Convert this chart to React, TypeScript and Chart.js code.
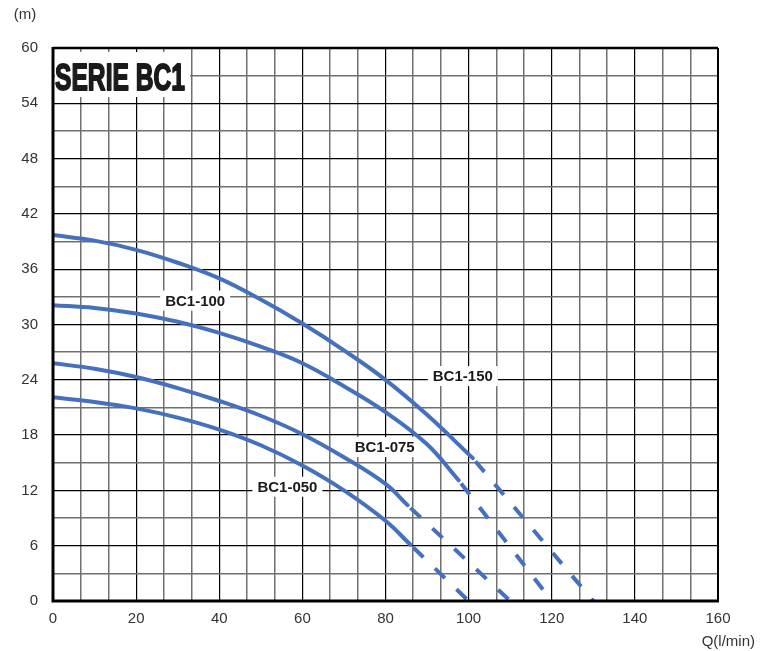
import React, { useEffect, useRef } from 'react';
import { Chart, registerables } from 'chart.js';

Chart.register(...registerables);

// Axis tick labels
const xTickLabels = ['0', '20', '40', '60', '80', '100', '120', '140', '160'];
const yTickLabels = ['0', '6', '12', '18', '24', '30', '36', '42', '48', '54', '60'];
const xMinorPerMajor = 3;
const yMinorPerMajor = 2;

// Curve names
const curveNames = ['BC1-150', 'BC1-100', 'BC1-075', 'BC1-050'];

// BC1-150
const q150 = [0, 10, 20, 30, 40, 50, 60, 70, 80, 90, 101];
const h150 = [39.7, 39.1, 38.1, 36.7, 35.0, 32.7, 30.1, 27.2, 24.0, 20.2, 15.5];
const q150Ext = [101, 130];
const h150Ext = [15.5, 0];

// BC1-100
const q100 = [0, 10, 20, 30, 40, 50, 60, 70, 80, 90, 97.6];
const h100 = [32.1, 31.8, 31.2, 30.3, 29.1, 27.6, 25.8, 23.3, 20.5, 17.0, 13.1];
const q100Ext = [97.6, 120];
const h100Ext = [13.1, 0];

// BC1-075
const q075 = [0, 10, 20, 30, 40, 50, 60, 70, 80, 85.3];
const h075 = [25.8, 25.2, 24.3, 23.1, 21.7, 20.1, 18.1, 15.6, 12.7, 10.4];
const q075Ext = [85.3, 110];
const h075Ext = [10.4, 0];

// BC1-050
const q050 = [0, 10, 20, 30, 40, 50, 60, 70, 80, 86];
const h050 = [22.1, 21.6, 20.9, 19.9, 18.6, 16.9, 14.7, 12.0, 8.7, 6.1];
const q050Ext = [86, 100];
const h050Ext = [6.1, 0];

// Label anchors (data coordinates) for curve names
const labelAnchorQ = [98.6, 34.2, 79.8, 56.4];
const labelAnchorH = [24.4, 32.6, 16.7, 12.4];

const titleText = 'SERIE BC1';
const yUnit = '(m)';
const xUnit = 'Q(l/min)';

const BLUE = '#4470BD';
const FONT = '"Liberation Sans", Arial, sans-serif';

const pts = (q: number[], h: number[]) => q.map((x, i) => ({ x, y: h[i] }));

const solid = (label: string, q: number[], h: number[]) => ({
  label,
  data: pts(q, h),
  borderColor: BLUE,
  borderWidth: 4,
  pointRadius: 0,
  fill: false,
  tension: 0.4,
  borderCapStyle: 'round' as const,
});

const dashed = (label: string, q: number[], h: number[]) => ({
  label,
  data: pts(q, h),
  borderColor: BLUE,
  borderWidth: 4,
  pointRadius: 0,
  fill: false,
  tension: 0,
  borderDash: [14, 16],
  borderDashOffset: -4,
  borderCapStyle: 'butt' as const,
});

const overlayPlugin = {
  id: 'overlay',
  beforeDatasetsDraw(chart: any) {
    const { ctx, chartArea, scales } = chart;
    ctx.save();
    // title box
    ctx.fillStyle = '#fff';
    ctx.fillRect(chartArea.left + 2, chartArea.top + 4, 135, 45);
    ctx.font = `bold 37px "Liberation Sans", Arial, sans-serif`;
    const w = ctx.measureText(titleText).width;
    const sx = Math.min(1, 130 / w);
    ctx.translate(chartArea.left + 2, chartArea.top + 42);
    ctx.scale(sx, 1);
    ctx.fillStyle = '#1a1a1a';
    ctx.strokeStyle = '#1a1a1a';
    ctx.lineWidth = 1.8;
    ctx.lineJoin = 'round';
    ctx.textBaseline = 'alphabetic';
    ctx.textAlign = 'left';
    ctx.fillText(titleText, 0, 0);
    ctx.strokeText(titleText, 0, 0);
    ctx.restore();

    // curve labels
    ctx.save();
    ctx.font = `bold 15px ${FONT}`;
    ctx.textAlign = 'center';
    ctx.textBaseline = 'middle';
    curveNames.forEach((name, i) => {
      const x = scales.x.getPixelForValue(labelAnchorQ[i]);
      const y = scales.y.getPixelForValue(labelAnchorH[i]);
      const tw = ctx.measureText(name).width + 2;
      ctx.fillStyle = '#fff';
      ctx.fillRect(x - tw / 2 - 4, y - 10, tw + 8, 20);
      ctx.fillStyle = '#1a1a1a';
      ctx.fillText(name, x, y + 1);
    });
    ctx.restore();
  },
  afterDraw(chart: any) {
    const { ctx, chartArea } = chart;
    const { left, right, top, bottom } = chartArea;
    ctx.save();
    ctx.strokeStyle = '#000';
    ctx.lineWidth = 2.5;
    ctx.beginPath();
    ctx.moveTo(left, top);
    ctx.lineTo(right, top);
    ctx.stroke();
    ctx.lineWidth = 2;
    ctx.beginPath();
    ctx.moveTo(right, top);
    ctx.lineTo(right, bottom);
    ctx.stroke();
    ctx.lineWidth = 3;
    ctx.beginPath();
    ctx.moveTo(left, top - 1);
    ctx.lineTo(left, bottom);
    ctx.lineTo(right + 1, bottom);
    ctx.stroke();

    ctx.fillStyle = '#333';
    ctx.font = `15px ${FONT}`;
    ctx.textBaseline = 'middle';
    ctx.textAlign = 'center';
    ctx.fillText(yUnit, 25, 15);
    ctx.textAlign = 'right';
    ctx.fillText(xUnit, 755, 642);
    ctx.restore();
  },
};

export default function App() {
  const ref = useRef<HTMLCanvasElement | null>(null);

  useEffect(() => {
    if (!ref.current) return;
    const xStep = (Number(xTickLabels[1]) - Number(xTickLabels[0])) / xMinorPerMajor;
    const yStep = (Number(yTickLabels[1]) - Number(yTickLabels[0])) / yMinorPerMajor;
    const xCount = (xTickLabels.length - 1) * xMinorPerMajor;
    const yCount = (yTickLabels.length - 1) * yMinorPerMajor;

    const chart = new Chart(ref.current, {
      type: 'line',
      data: {
        datasets: [
          solid(curveNames[0], q150, h150),
          dashed(curveNames[0] + ' ext', q150Ext, h150Ext),
          solid(curveNames[1], q100, h100),
          dashed(curveNames[1] + ' ext', q100Ext, h100Ext),
          solid(curveNames[2], q075, h075),
          dashed(curveNames[2] + ' ext', q075Ext, h075Ext),
          solid(curveNames[3], q050, h050),
          dashed(curveNames[3] + ' ext', q050Ext, h050Ext),
        ] as any,
      },
      options: {
        animation: false,
        responsive: true,
        maintainAspectRatio: false,
        layout: { padding: { left: 0, top: 48, right: 42, bottom: 0 } },
        plugins: {
          legend: { display: false },
          tooltip: { enabled: false },
        },
        scales: {
          x: {
            type: 'linear',
            min: Number(xTickLabels[0]),
            max: Number(xTickLabels[xTickLabels.length - 1]),
            afterBuildTicks: (axis: any) => {
              const t = [];
              for (let i = 0; i <= xCount; i++) t.push({ value: Number(xTickLabels[0]) + i * xStep });
              axis.ticks = t;
            },
            afterFit: (scale: any) => {
              scale.height = 50;
            },
            border: { display: false },
            grid: {
              drawTicks: false,
              color: (c: any) => (c.index % xMinorPerMajor === 0 ? '#000' : '#707070'),
              lineWidth: (c: any) => (c.index % xMinorPerMajor === 0 ? 1.2 : 1.5),
            },
            ticks: {
              autoSkip: false,
              maxRotation: 0,
              padding: 9,
              color: '#333',
              font: { family: FONT, size: 15 },
              callback: (_v: any, i: number) => (i % xMinorPerMajor === 0 ? xTickLabels[i / xMinorPerMajor] : ''),
            },
          },
          y: {
            type: 'linear',
            min: Number(yTickLabels[0]),
            max: Number(yTickLabels[yTickLabels.length - 1]),
            afterBuildTicks: (axis: any) => {
              const t = [];
              for (let i = 0; i <= yCount; i++) t.push({ value: Number(yTickLabels[0]) + i * yStep });
              axis.ticks = t;
            },
            afterFit: (scale: any) => {
              scale.width = 53;
            },
            border: { display: false },
            grid: {
              drawTicks: false,
              color: (c: any) => (c.index % yMinorPerMajor === 0 ? '#000' : '#707070'),
              lineWidth: (c: any) => (c.index % yMinorPerMajor === 0 ? 1.2 : 1.5),
            },
            ticks: {
              autoSkip: false,
              padding: 15,
              color: '#333',
              font: { family: FONT, size: 15 },
              callback: (_v: any, i: number) => (i % yMinorPerMajor === 0 ? yTickLabels[i / yMinorPerMajor] : ''),
            },
          },
        },
      },
      plugins: [overlayPlugin],
    });
    return () => chart.destroy();
  }, []);

  return (
    <div style={{ position: 'absolute', left: 0, top: 0, width: 760, height: 651, background: '#fff' }}>
      <canvas ref={ref} />
    </div>
  );
}
